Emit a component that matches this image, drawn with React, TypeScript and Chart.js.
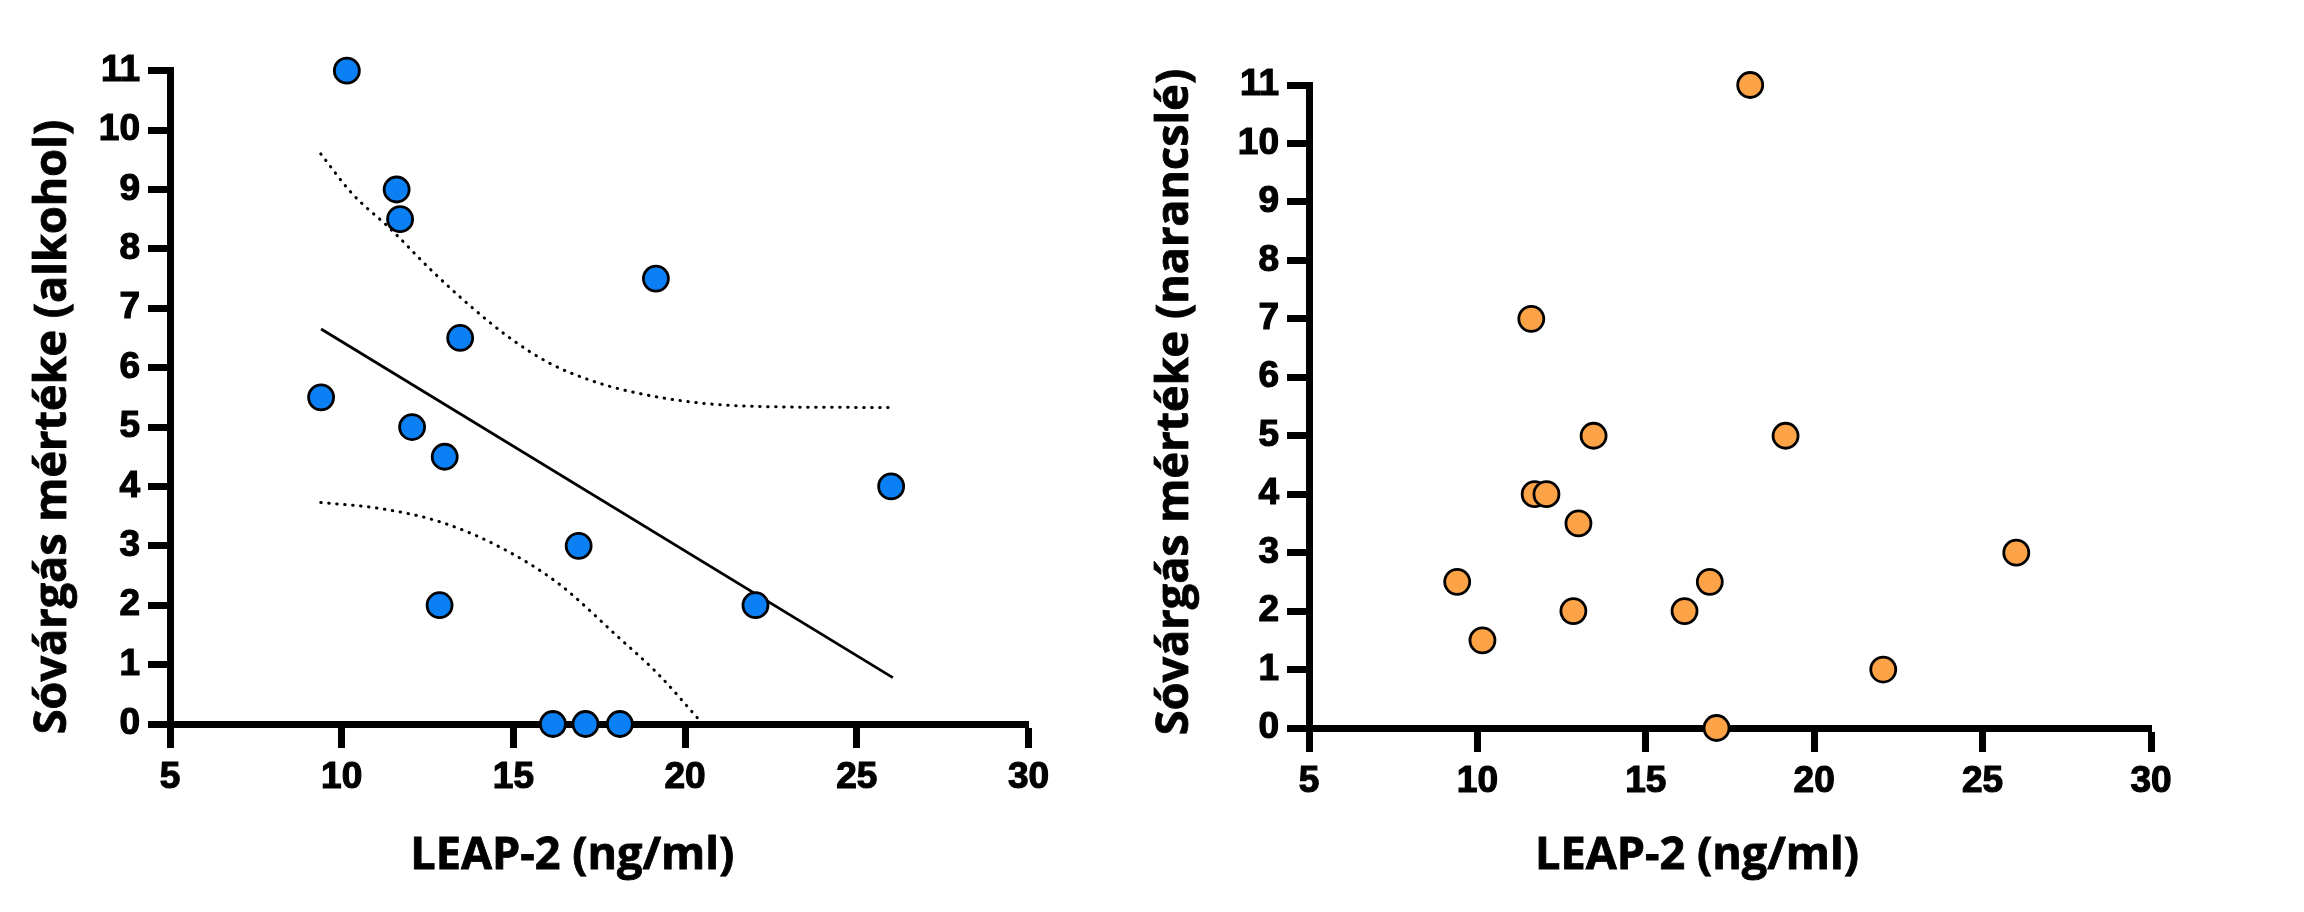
import React, { useEffect, useRef } from "react";
import { Chart, registerables } from "chart.js";
import type { ChartConfiguration, ChartDataset } from "chart.js";

Chart.register(...registerables);

// LEAP-2 level (ng/ml) vs. craving score, alcohol cue
const leapAlcohol = [10.15, 11.6, 11.7, 19.15, 13.45, 9.4, 12.05, 13.0, 26.0, 16.9, 12.85, 22.05, 16.15, 17.1, 18.1];
const cravingAlcohol = [11, 9, 8.5, 7.5, 6.5, 5.5, 5, 4.5, 4, 3, 2, 2, 0, 0, 0];

// same subjects, orange juice cue
const leapJuice = [18.1, 11.6, 13.45, 19.15, 11.7, 12.05, 13.0, 26.0, 9.4, 16.9, 12.85, 16.15, 10.15, 22.05, 17.1];
const cravingJuice = [11, 7, 5, 5, 4, 4, 3.5, 3, 2.5, 2.5, 2, 2, 1.5, 1, 0];

// regression line and its 95% confidence band
const fitX = [9.4, 26.05];
const fitY = [6.65, 0.78];
const upperX = [9.39, 10.29, 11.45, 12.61, 13.76, 14.92, 16.07, 17.23, 18.39, 20.35, 22.67, 25.97];
const upperY = [9.6, 8.94, 8.32, 7.64, 7.03, 6.49, 6.07, 5.79, 5.6, 5.41, 5.34, 5.33];
const lowerX = [9.39, 11.1, 12.83, 14.57, 16.3, 18.04, 19.2, 20.41];
const lowerY = [3.73, 3.63, 3.41, 2.99, 2.37, 1.47, 0.85, 0.07];

const xTickValues = [5, 10, 15, 20, 25, 30];
const yTickValues = [0, 1, 2, 3, 4, 5, 6, 7, 8, 9, 10, 11];

const xTitle = "LEAP-2 (ng/ml)";
const yTitleAlcohol = "Sóvárgás mértéke (alkohol)";
const yTitleJuice = "Sóvárgás mértéke (narancslé)";

const BLUE = "#0b80f4";
const ORANGE = "#fba346";

const zip = (xs: number[], ys: number[]) => xs.map((x, i) => ({ x, y: ys[i] }));

const TICK_FONT = { family: "'Liberation Sans', Arial, sans-serif", weight: "bold" as const, size: 37 };
const TITLE_FONT = "bold 45px 'Open Sans', Lato, sans-serif";

// draws the axis titles (offset like the Prism export) and closes the corner notch
const axisTitles = {
  id: "axisTitles",
  afterDraw(chart: Chart, _args: unknown, opts: any) {
    const { ctx, chartArea: a } = chart;
    ctx.save();
    ctx.fillStyle = "#000";
    ctx.strokeStyle = "#000";
    ctx.lineWidth = 0.8;
    ctx.fillRect(a.left - 3.5, a.bottom - 0.5, 7, 4);
    ctx.font = TITLE_FONT;
    ctx.textAlign = "center";
    ctx.textBaseline = "alphabetic";
    const xc = (a.left + a.right) / 2 + opts.xShift;
    ctx.fillText(opts.xText, xc, opts.xBaseline);
    ctx.strokeText(opts.xText, xc, opts.xBaseline);
    ctx.translate(opts.yBaseline, opts.yCenter);
    ctx.rotate(-Math.PI / 2);
    ctx.fillText(opts.yText, 0, 0);
    ctx.strokeText(opts.yText, 0, 0);
    ctx.restore();
  },
};

interface PanelProps {
  datasets: ChartDataset<"scatter">[];
  yText: string;
  left: number;
  width: number;
  area: { left: number; right: number; top: number; bottom: number };
  titles: { xShift: number; xBaseline: number; yBaseline: number; yCenter: number };
}

function ScatterPanel({ datasets, yText, left, width, area, titles }: PanelProps) {
  const ref = useRef<HTMLCanvasElement>(null);

  useEffect(() => {
    if (!ref.current) return;
    const config: ChartConfiguration<"scatter"> = {
      type: "scatter",
      data: { datasets },
      plugins: [axisTitles as any],
      options: {
        animation: false,
        responsive: true,
        maintainAspectRatio: false,
        events: [],
        layout: {
          padding: { left: 0, top: area.top, right: width - area.right, bottom: 0 },
        },
        plugins: {
          legend: { display: false },
          tooltip: { enabled: false },
          // @ts-ignore custom plugin options
          axisTitles: { xText: xTitle, yText, ...titles },
        },
        scales: {
          x: {
            type: "linear",
            min: 5,
            max: 30,
            afterBuildTicks: (s: any) => {
              s.ticks = xTickValues.map((value) => ({ value }));
            },
            afterFit: (s: any) => {
              s.height = 912 - area.bottom;
            },
            ticks: {
              font: TICK_FONT,
              color: "#000",
              padding: 8,
              maxRotation: 0,
              textStrokeColor: "#000",
              textStrokeWidth: 1.2,
            },
            grid: { drawOnChartArea: false, tickLength: 24, tickWidth: 7, tickColor: "#000" },
            border: { display: true, width: 7, color: "#000" },
          },
          y: {
            type: "linear",
            min: 0,
            max: 11,
            afterBuildTicks: (s: any) => {
              s.ticks = yTickValues.map((value) => ({ value }));
            },
            afterFit: (s: any) => {
              s.width = area.left;
            },
            ticks: {
              font: TICK_FONT,
              color: "#000",
              padding: 8,
              textStrokeColor: "#000",
              textStrokeWidth: 1.2,
            },
            grid: { drawOnChartArea: false, tickLength: 22, tickWidth: 7, tickColor: "#000" },
            border: { display: true, width: 7, color: "#000" },
          },
        },
      },
    };
    const chart = new Chart(ref.current, config);
    return () => chart.destroy();
  }, [datasets, yText]);

  return (
    <div style={{ position: "absolute", left, top: 0, width, height: 912 }}>
      <canvas ref={ref} />
    </div>
  );
}

const pointStyle = (color: string) => ({
  backgroundColor: color,
  borderColor: "#000",
  borderWidth: 2.8,
  pointRadius: 12.5,
  pointHoverRadius: 12.5,
  clip: false as const,
  order: 0,
});

const bandStyle = {
  showLine: true,
  borderColor: "#000",
  borderWidth: 3,
  borderDash: [0.5, 7.5],
  borderCapStyle: "round" as const,
  pointRadius: 0,
  tension: 0.4,
  cubicInterpolationMode: "monotone" as const,
  clip: false as const,
  order: 1,
};

const alcoholDatasets: ChartDataset<"scatter">[] = [
  { label: "alkohol", data: zip(leapAlcohol, cravingAlcohol), ...pointStyle(BLUE) },
  {
    label: "fit",
    data: zip(fitX, fitY),
    showLine: true,
    borderColor: "#000",
    borderWidth: 2.8,
    pointRadius: 0,
    clip: false as const,
    order: 1,
  } as any,
  { label: "upper", data: zip(upperX, upperY), ...bandStyle } as any,
  { label: "lower", data: zip(lowerX, lowerY), ...bandStyle } as any,
];

const juiceDatasets: ChartDataset<"scatter">[] = [
  { label: "narancslé", data: zip(leapJuice, cravingJuice), ...pointStyle(ORANGE) },
];

export default function App() {
  return (
    <div style={{ position: "fixed", left: 0, top: 0, width: 2304, height: 912, background: "#fff" }}>
      <ScatterPanel
        datasets={alcoholDatasets}
        yText={yTitleAlcohol}
        left={0}
        width={1150}
        area={{ left: 170, right: 1028.5, top: 70.7, bottom: 724 }}
        titles={{ xShift: -27, xBaseline: 869, yBaseline: 66, yCenter: 427 }}
      />
      <ScatterPanel
        datasets={juiceDatasets}
        yText={yTitleJuice}
        left={1150}
        width={1154}
        area={{ left: 159, right: 1001, top: 85, bottom: 728 }}
        titles={{ xShift: -33, xBaseline: 869, yBaseline: 38, yCenter: 402 }}
      />
    </div>
  );
}
